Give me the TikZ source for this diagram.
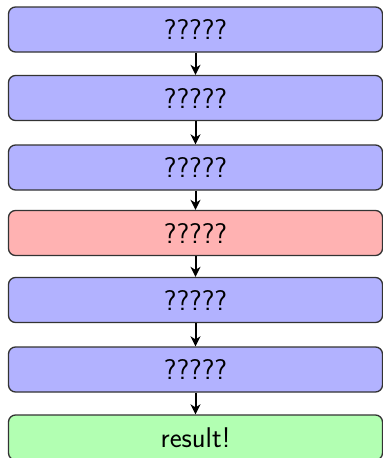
\documentclass[tikz,border=0pt]{standalone}
\usetikzlibrary{arrows.meta}
\begin{document}
\begin{tikzpicture}[x=1pt,y=-1pt,
  stage/.style={draw=black!80, line width=1.3pt, rounded corners=7pt,
    minimum width=374pt, minimum height=45pt, inner sep=0pt,
    font=\fontsize{28.5}{34}\selectfont\sffamily},
  todo/.style={stage, fill=blue!30},
  hot/.style={stage, fill=red!30},
  done/.style={stage, fill=green!30},
  flow/.style={line width=2pt, -{Stealth[length=10pt,width=10pt,inset=3pt]}}]
  \useasboundingbox (0,0) rectangle (383,458);
  \node[todo] (s1) at (195.5,29.5) {?????};
  \node[todo] (s2) at (195.5,98) {?????};
  \node[todo] (s3) at (195.5,167.5) {?????};
  \node[hot]  (s4) at (195.5,233) {?????};
  \node[todo] (s5) at (195.5,300) {?????};
  \node[todo] (s6) at (195.5,369.5) {?????};
  \node[done] (s7) at (195.5,437.5) {result!};
  \foreach \a/\b in {s1/s2,s2/s3,s3/s4,s4/s5,s5/s6,s6/s7}
    \draw[flow] (\a.south) -- (\b.north);
\end{tikzpicture}
\end{document}
